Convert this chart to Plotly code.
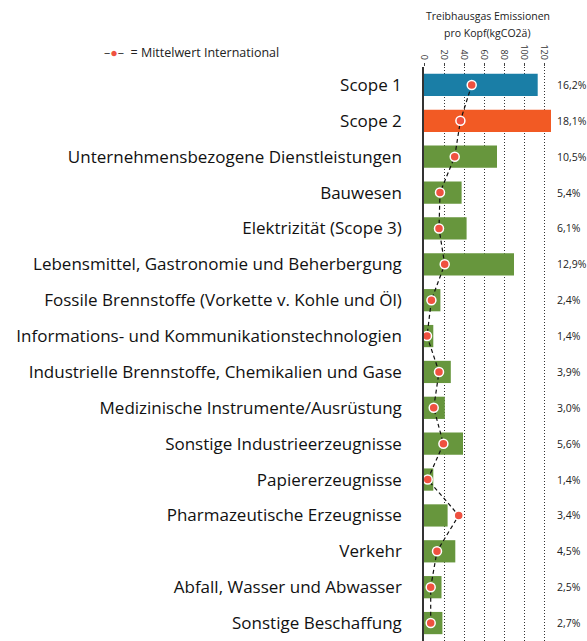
import plotly.graph_objects as go

categories = [
    "Scope 1",
    "Scope 2",
    "Unternehmensbezogene Dienstleistungen",
    "Bauwesen",
    "Elektrizität (Scope 3)",
    "Lebensmittel, Gastronomie und Beherbergung",
    "Fossile Brennstoffe (Vorkette v. Kohle und Öl)",
    "Informations- und Kommunikationstechnologien",
    "Industrielle Brennstoffe, Chemikalien und Gase",
    "Medizinische Instrumente/Ausrüstung",
    "Sonstige Industrieerzeugnisse",
    "Papiererzeugnisse",
    "Pharmazeutische Erzeugnisse",
    "Verkehr",
    "Abfall, Wasser und Abwasser",
    "Sonstige Beschaffung",
]
emissions = [113.7, 127.0, 73.0, 37.6, 42.6, 90.0, 16.4, 9.3, 26.8, 20.8, 39.0, 9.3, 23.6, 31.3, 17.5, 18.4]
intl_mean = [47.7, 36.4, 30.7, 16.0, 15.0, 20.7, 7.4, 3.0, 15.0, 9.7, 19.4, 3.7, 34.7, 13.0, 6.7, 6.7]
shares = ["16,2%", "18,1%", "10,5%", "5,4%", "6,1%", "12,9%", "2,4%", "1,4%",
          "3,9%", "3,0%", "5,6%", "1,4%", "3,4%", "4,5%", "2,5%", "2,7%"]
tick_vals = [0, 20, 40, 60, 80, 100, 120]

BLUE = "#1a7ea6"
ORANGE = "#f25a24"
GREEN = "#67963d"
RED = "#ef5140"
FONT = "Open Sans"

bar_colors = [BLUE, ORANGE] + [GREEN] * (len(categories) - 2)

W, H = 587, 641
plot_left, plot_right = 424, 551

fig = go.Figure()
fig.add_trace(go.Bar(
    x=emissions, y=categories, orientation="h",
    marker=dict(color=bar_colors, line=dict(width=0)),
    width=0.62, showlegend=False, hoverinfo="x+y",
))
fig.add_trace(go.Scatter(
    x=intl_mean, y=categories, mode="lines+markers",
    line=dict(color="#111111", width=1.2, dash="4px,3px"),
    marker=dict(color=RED, size=9, line=dict(color="white", width=1.5)),
    showlegend=False, cliponaxis=False,
))

annotations = []
for cat, s in zip(categories, shares):
    annotations.append(dict(
        x=1, xref="paper", xanchor="left", xshift=4,
        y=cat, yref="y", yanchor="middle",
        text=s, showarrow=False,
        font=dict(family=FONT, size=10.5, color="#222222"),
    ))
for line, shift in (("Treibhausgas Emissionen", 51), ("pro Kopf(kgCO2ä)", 34)):
    annotations.append(dict(
        x=0.5, xref="paper", xanchor="center",
        y=1, yref="paper", yanchor="middle", yshift=shift,
        text=line, showarrow=False,
        font=dict(family=FONT, size=10.5, color="#222222"),
    ))
annotations.append(dict(
    x=(102 - plot_left) / (plot_right - plot_left), xref="paper", xanchor="left",
    y=1, yref="paper", yanchor="middle", yshift=15,
    text="<span style='color:#444'>–</span><span style='color:%s'>●</span><span style='color:#444'>–</span>  = Mittelwert International" % RED,
    showarrow=False,
    font=dict(family=FONT, size=12.5, color="#222222"),
))

fig.update_layout(
    width=W, height=H,
    margin=dict(l=plot_left, r=W - plot_right, t=67, b=0, autoexpand=False),
    plot_bgcolor="white", paper_bgcolor="white",
    annotations=annotations,
    xaxis=dict(
        side="top", range=[0, 127], tickvals=tick_vals, tickangle=90,
        showgrid=True, gridcolor="#333333", griddash="1px,2px", gridwidth=1,
        zeroline=False, showline=False,
        ticks="outside", ticklen=3, tickcolor="#444444",
        tickfont=dict(family=FONT, size=9, color="#333333"),
        fixedrange=True,
    ),
    yaxis=dict(
        autorange=False, range=[15.5, -0.5], showgrid=False, zeroline=False,
        showline=True, linecolor="#333333", linewidth=1.5,
        ticks="", ticklabelstandoff=17,
        tickfont=dict(family=FONT, size=17, color="#111111"),
    ),
)

fig.write_html(
    "out.html",
    config={"displayModeBar": False},
    post_script="document.body.style.margin='0';document.body.style.overflow='hidden';",
)
